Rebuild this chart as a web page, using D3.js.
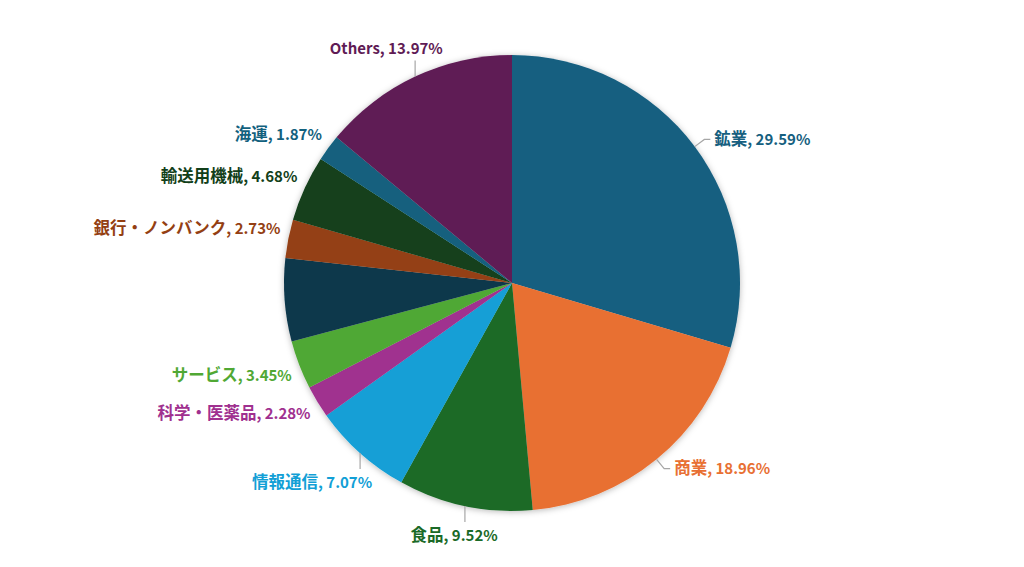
<!DOCTYPE html>
<html>
<head>
<meta charset="utf-8">
<script src="https://cdn.jsdelivr.net/npm/d3@7"></script>
<style>
  html, body { margin: 0; padding: 0; background: #fff; }
  svg { display: block; }
  .lbl { font-family: "Noto Sans CJK JP", "Noto Sans", sans-serif; font-size: 15px; font-weight: 700; }
  .cjk { font-size: 16.5px; }
</style>
</head>
<body>
<div id="chart"></div>
<script>
// slices in clockwise order from 12 o'clock; the 7th slice has no label in the source
var categories = ["鉱業", "商業", "食品", "情報通信", "科学・医薬品", "サービス", "", "銀行・ノンバンク", "輸送用機械", "海運", "Others"];
var shares = [29.59, 18.96, 9.52, 7.07, 2.28, 3.45, 5.88, 2.73, 4.68, 1.87, 13.97];
var colors = ["#165f80", "#e87033", "#1b6a27", "#129fd6", "#a0308f", "#50a834", "#0d384c", "#943f13", "#123f1a", "#12617e", "#5f1b55"];

var width = 1024, height = 567;
var cx = 512, cy = 283, radius = 228;

var svg = d3.select("#chart")
  .append("svg")
  .attr("width", width)
  .attr("height", height);

var defs = svg.append("defs");
defs.append("filter")
  .attr("id", "shadow")
  .attr("x", "-20%").attr("y", "-20%")
  .attr("width", "140%").attr("height", "140%")
  .append("feDropShadow")
  .attr("dx", 0).attr("dy", 1)
  .attr("stdDeviation", 3)
  .attr("flood-color", "#000")
  .attr("flood-opacity", 0.28);

var g = svg.append("g")
  .attr("transform", "translate(" + cx + "," + cy + ")");

var data = categories.map(function(c, i) { return {name: c, value: shares[i], color: colors[i]}; });

var pie = d3.pie()
  .sort(null)
  .value(function(d) { return d.value; });

var arc = d3.arc()
  .innerRadius(0)
  .outerRadius(radius);

var arcs = pie(data);

g.append("g")
  .attr("filter", "url(#shadow)")
  .selectAll("path")
  .data(arcs)
  .enter().append("path")
  .attr("d", arc)
  .attr("fill", function(d) { return d.data.color; });

var lines = g.append("g");
var labels = g.append("g");

arcs.forEach(function(d) {
  if (!d.data.name) return;
  var a = (d.startAngle + d.endAngle) / 2,
      s = Math.sin(a), c = -Math.cos(a),   // c is the y direction (down positive)
      px = s * radius, py = c * radius;

  var text = labels.append("text")
    .attr("class", "lbl")
    .attr("fill", d.data.color)
    .attr("dy", "0.35em");
  text.append("tspan")
    .attr("class", /^[\x00-\x7f]*$/.test(d.data.name) ? null : "cjk")
    .text(d.data.name);
  text.append("tspan")
    .text(", " + d3.format(".2f")(d.data.value) + "%");
  var w = text.node().getComputedTextLength(),
      h = 16;

  var vertical = Math.abs(c) > 0.74 && s < 0.3;
  if (vertical) {
    // leader straight up/down, label above/below it
    var dir = c < 0 ? -1 : 1,
        ey = py + dir * 16,
        frac = Math.max(0, Math.min(1, 0.5 - 0.6 * s));
    lines.append("path")
      .attr("d", "M" + px + "," + py + "V" + ey);
    text.attr("x", px - frac * w).attr("y", ey + dir * (dir > 0 ? 14 : 12));
  } else if (d.data.value > 10) {
    // radial leader then a short horizontal run
    var ex = s * (radius + 12), ey2 = c * (radius + 12),
        side = s >= 0 ? 1 : -1,
        hx = ex + side * 6;
    lines.append("path")
      .attr("d", "M" + px + "," + py + "L" + ex + "," + ey2 + "H" + hx);
    text.attr("x", side > 0 ? hx + 4 : hx - 4 - w).attr("y", ey2);
  } else {
    // small slices: label box corner sits just outside the rim
    var qx = s * (radius + 8), qy = c * (radius + 8);
    text.attr("x", s >= 0 ? qx : qx - w)
      .attr("y", c < 0 ? qy - h / 2 : qy + h / 2);
  }
});

lines.selectAll("path")
  .attr("fill", "none")
  .attr("stroke", "#a6a6a6")
  .attr("stroke-width", 1.2);
</script>
</body>
</html>
